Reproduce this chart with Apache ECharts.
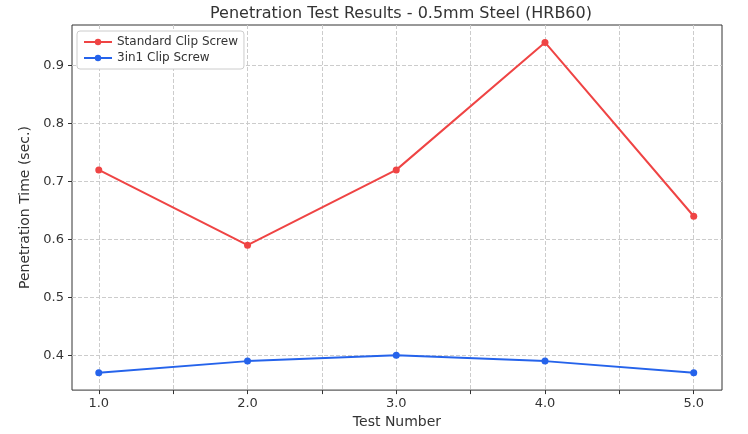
<!DOCTYPE html>
<html>
<head>
<meta charset="utf-8">
<script src="https://cdn.jsdelivr.net/npm/echarts@6/dist/echarts.min.js"></script>
</head>
<body style="margin:0">
<div id="chart" style="width:748px;height:434px"></div>
<script>
var tests = [1, 2, 3, 4, 5];
var standard = [0.72, 0.59, 0.72, 0.94, 0.64];
var threeInOne = [0.37, 0.39, 0.40, 0.39, 0.37];
var xLabels = [1, 2, 3, 4, 5];
var xTicks = [1, 1.5, 2, 2.5, 3, 3.5, 4, 4.5, 5];
var yTicks = [0.4, 0.5, 0.6, 0.7, 0.8, 0.9];

function pairs(v) { return tests.map(function (t, i) { return [t, v[i]]; }); }

var chart = echarts.init(document.getElementById('chart'));
var font = 'DejaVu Sans';
chart.setOption({
  animation: false,
  textStyle: { fontFamily: font },
  title: { text: 'Penetration Test Results - 0.5mm Steel (HRB60)', left: 396, textAlign: 'center', top: 1,
    textStyle: { fontFamily: font, fontSize: 16, fontWeight: 'normal', color: '#333' } },
  grid: { left: 72, right: 26, top: 25, bottom: 38, show: true, borderColor: '#333', borderWidth: 1 },
  legend: { left: 77, top: 31, orient: 'vertical', itemGap: 4, itemWidth: 28, itemHeight: 8,
    backgroundColor: '#fff', borderColor: '#ccc', borderWidth: 1, borderRadius: 3, padding: [5, 6],
    textStyle: { fontFamily: font, fontSize: 12, color: '#333' },
    data: ['Standard Clip Screw', '3in1 Clip Screw'] },
  xAxis: { type: 'value', min: 0.82, max: 5.19, name: 'Test Number', nameLocation: 'middle', nameGap: 24,
    nameTextStyle: { fontFamily: font, fontSize: 14, color: '#333' },
    axisLine: { show: false },
    axisTick: { show: true, customValues: xTicks, length: 4, lineStyle: { color: '#333' } },
    axisLabel: { customValues: xLabels, formatter: function (v) { return v.toFixed(1); }, fontSize: 13, color: '#333', margin: 7 },
    splitLine: { show: true, lineStyle: { type: 'dashed', color: '#ccc' } } },
  yAxis: { type: 'value', min: 0.34, max: 0.97, name: 'Penetration Time (sec.)', nameLocation: 'middle', nameGap: 38,
    nameTextStyle: { fontFamily: font, fontSize: 14, color: '#333' },
    axisLine: { show: false },
    axisTick: { show: true, customValues: yTicks, length: 4, lineStyle: { color: '#333' } },
    axisLabel: { customValues: yTicks, formatter: function (v) { return v.toFixed(1); }, fontSize: 13, color: '#333', margin: 8 },
    splitLine: { show: true, lineStyle: { type: 'dashed', color: '#ccc' } } },
  series: [
    { name: 'Standard Clip Screw', type: 'line', data: pairs(standard), symbol: 'circle', symbolSize: 7,
      itemStyle: { color: '#ef4444' }, lineStyle: { width: 2, color: '#ef4444' } },
    { name: '3in1 Clip Screw', type: 'line', data: pairs(threeInOne), symbol: 'circle', symbolSize: 7,
      itemStyle: { color: '#2563eb' }, lineStyle: { width: 2, color: '#2563eb' } }
  ]
});
</script>
</body>
</html>
